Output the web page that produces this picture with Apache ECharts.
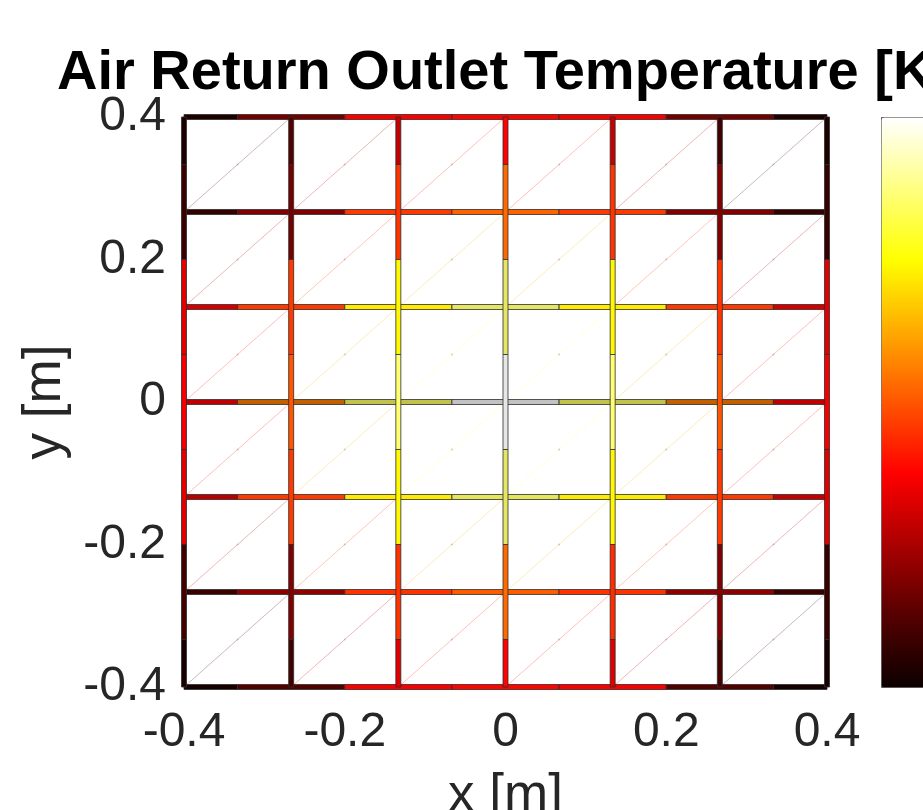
<!DOCTYPE html>
<html>
<head>
<meta charset="utf-8">
<script src="https://cdn.jsdelivr.net/npm/echarts@6/dist/echarts.min.js"></script>
<style>
  html, body { margin: 0; padding: 0; background: #ffffff; }
  #chart { width: 923px; height: 810px; }
</style>
</head>
<body>
<div id="chart"></div>
<script>
// Grid node positions [m] (7 x 7 nodes, 6 x 6 cells)
const xNodes = [-0.4, -0.26667, -0.13333, 0, 0.13333, 0.26667, 0.4];
const yNodes = [0.4, 0.26667, 0.13333, 0, -0.13333, -0.26667, -0.4]; // top to bottom

// Axis ticks
const tickValues = [-0.4, -0.2, 0, 0.2, 0.4];

// Relative outlet temperature (0 = coldest, 1 = hottest) on the horizontal
// faces, one value per node, rows listed from y = 0.4 down to y = -0.4
const horizontalLevels = [
  [0.03, 0.17, 0.37, 0.38, 0.37, 0.17, 0.03],
  [0.07, 0.19, 0.46, 0.52, 0.46, 0.19, 0.07],
  [0.31, 0.46, 0.72, 0.86, 0.72, 0.46, 0.31],
  [0.37, 0.56, 0.85, 1.00, 0.85, 0.56, 0.37],
  [0.27, 0.46, 0.72, 0.85, 0.72, 0.46, 0.29],
  [0.08, 0.21, 0.45, 0.51, 0.45, 0.21, 0.08],
  [0.02, 0.12, 0.37, 0.38, 0.37, 0.12, 0.02]
];

// Same quantity on the vertical faces, rows from y = 0.4 down to y = -0.4
const verticalLevels = [
  [0.03, 0.12, 0.29, 0.38, 0.29, 0.09, 0.03],
  [0.08, 0.17, 0.45, 0.53, 0.45, 0.19, 0.07],
  [0.33, 0.46, 0.74, 0.86, 0.74, 0.45, 0.33],
  [0.36, 0.50, 0.86, 1.00, 0.86, 0.50, 0.36],
  [0.33, 0.46, 0.74, 0.86, 0.74, 0.46, 0.33],
  [0.09, 0.19, 0.45, 0.53, 0.44, 0.19, 0.08],
  [0.02, 0.09, 0.33, 0.38, 0.33, 0.10, 0.02]
];

// MATLAB "hot" colour map, sampled at equal steps
const hotMap = ['#0b0000', '#550000', '#aa0000', '#ff0000', '#ff5500',
                '#ffaa00', '#ffff00', '#ffff80', '#ffffff'];

const FONT = '"Liberation Sans", Arial, Helvetica, sans-serif';
const TEXT_COLOR = '#262626';

// ---- build face segments: each face spans half a cell either side of its node
const xMin = xNodes[0], xMax = xNodes[xNodes.length - 1];
const yMin = yNodes[yNodes.length - 1], yMax = yNodes[0];
const halfX = (xNodes[1] - xNodes[0]) / 2;
const halfY = (yNodes[0] - yNodes[1]) / 2;

const segmentData = [];
horizontalLevels.forEach((row, j) => {
  row.forEach((v, i) => {
    const x = xNodes[i], y = yNodes[j];
    segmentData.push([Math.max(xMin, x - halfX), y, Math.min(xMax, x + halfX), y, v, 0, i, j]);
  });
});
verticalLevels.forEach((row, j) => {
  row.forEach((v, i) => {
    const x = xNodes[i], y = yNodes[j];
    segmentData.push([x, Math.min(yMax, y + halfY), x, Math.max(yMin, y - halfY), v, 1, i, j]);
  });
});

// ---- cell diagonals, tinted by the mean of the surrounding faces
const diagonalData = [];
for (let j = 0; j < yNodes.length - 1; j++) {
  for (let i = 0; i < xNodes.length - 1; i++) {
    const around = [
      horizontalLevels[j][i], horizontalLevels[j][i + 1],
      horizontalLevels[j + 1][i], horizontalLevels[j + 1][i + 1],
      verticalLevels[j][i], verticalLevels[j][i + 1],
      verticalLevels[j + 1][i], verticalLevels[j + 1][i + 1]
    ];
    const mean = around.reduce((a, b) => a + b, 0) / around.length;
    diagonalData.push([xNodes[i], yNodes[j + 1], xNodes[i + 1], yNodes[j], mean]);
  }
}

// darker rendering of the faces lying on the centre lines
function shadeFor(orient, i, j) {
  if (orient === 0) {
    if (j === 3) return 0.76;
    if (i === 3 && (j === 2 || j === 4)) return 0.9;
    return 1;
  }
  if (i === 3 && j >= 2 && j <= 4) return 0.9;
  return 1;
}

function scaleColor(c, k, alpha) {
  const p = echarts.color.parse(c);
  return 'rgba(' + Math.round(p[0] * k) + ',' + Math.round(p[1] * k) + ',' +
         Math.round(p[2] * k) + ',' + (alpha == null ? 1 : alpha) + ')';
}

const FACE_THICKNESS = 5;

function renderSegment(params, api) {
  const p0 = api.coord([api.value(0), api.value(1)]);
  const p1 = api.coord([api.value(2), api.value(3)]);
  const orient = api.value(5);
  const fill = scaleColor(api.visual('color'), shadeFor(orient, api.value(6), api.value(7)));
  let shape;
  if (orient === 0) {
    shape = { x: p0[0], y: p0[1] - FACE_THICKNESS / 2, width: p1[0] - p0[0], height: FACE_THICKNESS };
  } else {
    shape = { x: p0[0] - FACE_THICKNESS / 2, y: p0[1], width: FACE_THICKNESS, height: p1[1] - p0[1] };
  }
  return {
    type: 'rect',
    shape: shape,
    style: { fill: fill, stroke: 'rgba(45,45,45,0.8)', lineWidth: 1 }
  };
}

function renderDiagonal(params, api) {
  const p0 = api.coord([api.value(0), api.value(1)]);
  const p1 = api.coord([api.value(2), api.value(3)]);
  const col = scaleColor(api.visual('color'), 1, 0.28);
  return {
    type: 'group',
    children: [
      { type: 'line', shape: { x1: p0[0], y1: p0[1], x2: p1[0], y2: p1[1] },
        style: { stroke: col, lineWidth: 1 } },
      { type: 'circle', shape: { cx: (p0[0] + p1[0]) / 2, cy: (p0[1] + p1[1]) / 2, r: 1 },
        style: { fill: 'rgba(120,120,120,0.35)' } }
    ]
  };
}

function tickText(v) {
  if (Math.abs(v) < 1e-9) return '0';
  const t = tickValues.find(tv => Math.abs(tv - v) < 1e-9);
  return (t !== undefined ? t : v).toFixed(1);
}

const chart = echarts.init(document.getElementById('chart'), null, { renderer: 'canvas' });

chart.setOption({
  animation: false,
  backgroundColor: '#ffffff',
  title: {
    text: 'Air Return Outlet Temperature [K]',
    left: 57,
    top: 46,
    padding: 0,
    textStyle: { fontFamily: FONT, fontSize: 56, fontWeight: 'bold', color: '#000000' }
  },
  grid: {
    left: 184, right: 96, top: 117, bottom: 123,
    outerBoundsMode: 'none',
    containLabel: false,
    show: true, borderColor: TEXT_COLOR, borderWidth: 1, backgroundColor: '#ffffff'
  },
  xAxis: {
    type: 'value',
    min: tickValues[0], max: tickValues[tickValues.length - 1], interval: 0.2,
    name: 'x [m]', nameLocation: 'middle', nameGap: 83,
    nameTextStyle: { fontFamily: FONT, fontSize: 53, color: TEXT_COLOR },
    axisLine: { show: false }, axisTick: { show: false }, splitLine: { show: false },
    axisLabel: { formatter: tickText, fontFamily: FONT, fontSize: 48, color: TEXT_COLOR, margin: 22 }
  },
  yAxis: {
    type: 'value',
    min: tickValues[0], max: tickValues[tickValues.length - 1], interval: 0.2,
    name: 'y [m]', nameLocation: 'middle', nameGap: 110, nameRotate: 90,
    nameTextStyle: { fontFamily: FONT, fontSize: 53, color: TEXT_COLOR },
    axisLine: { show: false }, axisTick: { show: false }, splitLine: { show: false },
    axisLabel: { formatter: tickText, fontFamily: FONT, fontSize: 48, color: TEXT_COLOR, margin: 18 }
  },
  visualMap: {
    type: 'continuous',
    min: 0, max: 1,
    dimension: 4,
    seriesIndex: [0, 1],
    calculable: false,
    hoverLink: false,
    left: 881, top: 117,
    itemWidth: 50, itemHeight: 570,
    padding: 0,
    borderWidth: 1, borderColor: '#555555',
    textStyle: { color: 'transparent' },
    inRange: { color: hotMap }
  },
  series: [
    {
      type: 'custom',
      name: 'cells',
      renderItem: renderDiagonal,
      data: diagonalData,
      silent: true,
      z: 1
    },
    {
      type: 'custom',
      name: 'faces',
      renderItem: renderSegment,
      data: segmentData,
      silent: true,
      z: 2
    }
  ]
});
</script>
</body>
</html>
